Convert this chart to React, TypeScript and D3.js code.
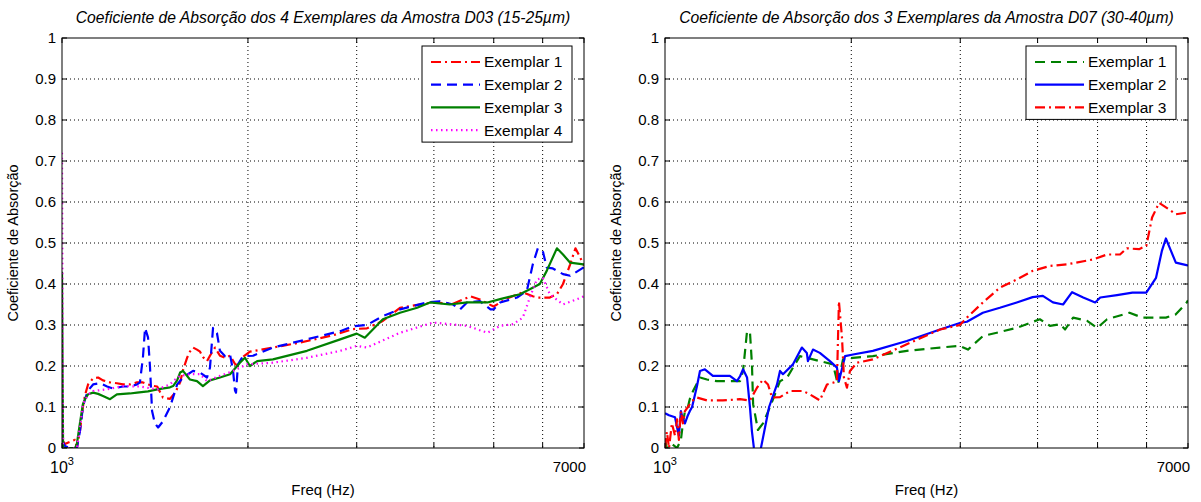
import React from 'react';
import * as d3 from 'd3';

const W = 1201;
const H = 502;

// ---------- Amostra D03 (15-25 µm) ----------
const d03Ex1Freq = [1000, 1011, 1030, 1050, 1057, 1069, 1081, 1090, 1102, 1123, 1144, 1165, 1196, 1227, 1255, 1288, 1323, 1352, 1378, 1399, 1426, 1457, 1496, 1525, 1553, 1570, 1594, 1611, 1630, 1654, 1673, 1691, 1717, 1736, 1769, 1802, 1837, 1871, 1906, 1927, 1963, 2015, 2195, 2428, 2748, 2957, 3117, 3307, 3525, 3987, 4297, 4585, 4750, 4997, 5256, 5573, 5784, 5893, 6163, 6327, 6473, 6648, 6780, 6900, 7000];
const d03Ex1Abs = [0.02, 0.01, 0.015, 0.02, 0.0, 0.04, 0.1, 0.13, 0.155, 0.17, 0.172, 0.165, 0.16, 0.158, 0.155, 0.155, 0.16, 0.16, 0.155, 0.152, 0.15, 0.123, 0.12, 0.135, 0.16, 0.19, 0.22, 0.235, 0.245, 0.24, 0.235, 0.222, 0.212, 0.225, 0.245, 0.225, 0.22, 0.225, 0.205, 0.2, 0.222, 0.235, 0.245, 0.257, 0.275, 0.29, 0.292, 0.31, 0.342, 0.355, 0.352, 0.37, 0.362, 0.345, 0.365, 0.38, 0.37, 0.367, 0.367, 0.375, 0.4, 0.448, 0.487, 0.465, 0.445];

const d03Ex2Freq = [1000, 1011, 1030, 1057, 1069, 1081, 1090, 1102, 1123, 1152, 1183, 1209, 1255, 1288, 1323, 1337, 1352, 1363, 1378, 1388, 1399, 1414, 1431, 1457, 1496, 1525, 1536, 1570, 1630, 1673, 1717, 1736, 1756, 1782, 1802, 1837, 1871, 1892, 1906, 1913, 1927, 1963, 2038, 2195, 2492, 2821, 2957, 3117, 3307, 3525, 3900, 4090, 4297, 4410, 4526, 4750, 4940, 4997, 5120, 5454, 5656, 5784, 5893, 6004, 6092, 6232, 6473, 6648, 6982, 7000];
const d03Ex2Abs = [0.02, 0.005, 0.0, 0.0, 0.04, 0.1, 0.12, 0.14, 0.155, 0.158, 0.15, 0.145, 0.15, 0.15, 0.155, 0.16, 0.22, 0.293, 0.27, 0.2, 0.09, 0.06, 0.05, 0.065, 0.1, 0.14, 0.155, 0.172, 0.188, 0.184, 0.172, 0.196, 0.293, 0.28, 0.237, 0.224, 0.228, 0.188, 0.14, 0.135, 0.204, 0.224, 0.225, 0.245, 0.265, 0.285, 0.297, 0.3, 0.322, 0.338, 0.355, 0.358, 0.35, 0.338, 0.355, 0.358, 0.338, 0.338, 0.355, 0.367, 0.383, 0.448, 0.487, 0.48, 0.44, 0.438, 0.424, 0.42, 0.44, 0.445];

const d03Ex3Freq = [1000, 1004, 1030, 1050, 1057, 1069, 1081, 1090, 1102, 1123, 1144, 1165, 1196, 1227, 1288, 1323, 1378, 1426, 1496, 1513, 1536, 1553, 1570, 1611, 1654, 1691, 1736, 1802, 1871, 1941, 1978, 2015, 2070, 2195, 2492, 2821, 3000, 3092, 3307, 3525, 3758, 3941, 4245, 4526, 4883, 5120, 5512, 5720, 5937, 6092, 6327, 6473, 6648, 6982, 7000];
const d03Ex3Abs = [0.43, 0.0, 0.0, 0.0, 0.01, 0.06, 0.107, 0.12, 0.131, 0.135, 0.132, 0.127, 0.119, 0.131, 0.133, 0.135, 0.138, 0.143, 0.148, 0.151, 0.165, 0.184, 0.188, 0.167, 0.163, 0.151, 0.165, 0.172, 0.18, 0.208, 0.22, 0.2, 0.212, 0.216, 0.237, 0.265, 0.279, 0.269, 0.314, 0.33, 0.342, 0.355, 0.35, 0.355, 0.355, 0.363, 0.375, 0.387, 0.4, 0.432, 0.487, 0.472, 0.452, 0.448, 0.448];

const d03Ex4Freq = [1000, 1004, 1030, 1057, 1069, 1081, 1102, 1123, 1183, 1255, 1337, 1426, 1496, 1513, 1553, 1611, 1673, 1717, 1802, 1892, 1993, 2195, 2492, 2821, 3000, 3117, 3525, 3987, 4245, 4526, 4883, 5120, 5374, 5573, 5720, 5871, 6004, 6163, 6473, 6824, 7000];
const d03Ex4Abs = [0.72, 0.0, 0.0, 0.0, 0.05, 0.107, 0.13, 0.139, 0.143, 0.151, 0.15, 0.143, 0.155, 0.163, 0.176, 0.18, 0.18, 0.163, 0.176, 0.188, 0.204, 0.208, 0.22, 0.237, 0.249, 0.245, 0.281, 0.306, 0.302, 0.298, 0.281, 0.298, 0.302, 0.318, 0.367, 0.411, 0.415, 0.375, 0.35, 0.363, 0.37];

// ---------- Amostra D07 (30-40 µm) ----------
const d07Ex1Freq = [1000, 1007, 1026, 1046, 1061, 1069, 1077, 1089, 1097, 1110, 1139, 1169, 1213, 1259, 1322, 1337, 1357, 1372, 1382, 1388, 1413, 1440, 1478, 1534, 1575, 1652, 1695, 1779, 1868, 1903, 1939, 2013, 2167, 2459, 2782, 2996, 3087, 3263, 3702, 4034, 4188, 4350, 4431, 4565, 4810, 4993, 5180, 5630, 5906, 6447, 6690, 6960, 7000];
const d07Ex1Abs = [0.02, 0.0, 0.01, 0.0, 0.02, 0.06, 0.09, 0.1, 0.12, 0.139, 0.172, 0.167, 0.163, 0.163, 0.163, 0.188, 0.285, 0.281, 0.204, 0.107, 0.044, 0.06, 0.1, 0.163, 0.172, 0.224, 0.22, 0.212, 0.204, 0.155, 0.216, 0.22, 0.224, 0.237, 0.245, 0.249, 0.24, 0.273, 0.293, 0.314, 0.298, 0.302, 0.289, 0.318, 0.31, 0.293, 0.314, 0.33, 0.318, 0.318, 0.326, 0.354, 0.36];

const d07Ex2Freq = [1000, 1015, 1038, 1046, 1053, 1061, 1069, 1077, 1089, 1097, 1106, 1126, 1139, 1160, 1195, 1240, 1273, 1307, 1322, 1337, 1357, 1372, 1382, 1392, 1413, 1429, 1473, 1517, 1534, 1551, 1610, 1664, 1695, 1702, 1734, 1779, 1847, 1896, 1910, 1954, 2013, 2167, 2459, 2782, 2996, 3075, 3263, 3476, 3702, 3927, 4079, 4235, 4398, 4548, 4740, 4956, 5050, 5375, 5692, 5994, 6215, 6350, 6447, 6520, 6690, 6960, 7000];
const d07Ex2Abs = [0.085, 0.08, 0.075, 0.05, 0.03, 0.09, 0.07, 0.06, 0.08, 0.09, 0.1, 0.15, 0.188, 0.192, 0.176, 0.176, 0.176, 0.163, 0.175, 0.192, 0.172, 0.098, 0.04, 0.0, -0.04, 0.0, 0.1, 0.155, 0.188, 0.18, 0.204, 0.245, 0.232, 0.212, 0.24, 0.232, 0.212, 0.196, 0.163, 0.224, 0.228, 0.237, 0.261, 0.289, 0.305, 0.308, 0.33, 0.342, 0.355, 0.368, 0.371, 0.355, 0.35, 0.38, 0.367, 0.355, 0.367, 0.373, 0.379, 0.379, 0.415, 0.48, 0.511, 0.493, 0.452, 0.446, 0.445];

const d07Ex3Freq = [1000, 1007, 1015, 1026, 1038, 1046, 1053, 1061, 1069, 1077, 1089, 1106, 1126, 1169, 1240, 1322, 1372, 1408, 1440, 1467, 1489, 1534, 1592, 1671, 1714, 1779, 1827, 1868, 1896, 1910, 1932, 1946, 1968, 1990, 2043, 2167, 2459, 2782, 2996, 3075, 3263, 3476, 3702, 3927, 4188, 4464, 4920, 5180, 5435, 5575, 5835, 5994, 6124, 6285, 6520, 6690, 6960, 7000];
const d07Ex3Abs = [0.0, 0.04, 0.0, 0.06, 0.03, 0.07, 0.02, 0.09, 0.06, 0.09, 0.1, 0.115, 0.123, 0.116, 0.116, 0.119, 0.116, 0.147, 0.167, 0.155, 0.123, 0.124, 0.139, 0.139, 0.131, 0.116, 0.155, 0.159, 0.163, 0.358, 0.269, 0.172, 0.147, 0.188, 0.208, 0.216, 0.253, 0.289, 0.3, 0.318, 0.355, 0.391, 0.411, 0.432, 0.444, 0.448, 0.46, 0.472, 0.472, 0.487, 0.485, 0.493, 0.562, 0.598, 0.582, 0.57, 0.574, 0.575];

// ---------- axes ----------
const yTickValues = [0, 0.1, 0.2, 0.3, 0.4, 0.5, 0.6, 0.7, 0.8, 0.9, 1];
const yTickLabels = ['0', '0.1', '0.2', '0.3', '0.4', '0.5', '0.6', '0.7', '0.8', '0.9', '1'];
const xTickValues = [1000, 2000, 3000, 4000, 5000, 6000, 7000];
const xGridValues = [2000, 3000, 4000, 5000, 6000];

const titleD03 = 'Coeficiente de Absorção dos 4 Exemplares da Amostra D03 (15-25µm)';
const titleD07 = 'Coeficiente de Absorção dos 3 Exemplares da Amostra D07 (30-40µm)';
const xLabel = 'Freq (Hz)';
const yLabel = 'Coeficiente de Absorção';

const RED = '#ff0000';
const BLUE = '#0000ff';
const GREEN = '#008000';
const MAGENTA = '#ff00ff';

const DASH_DOT = '10,4,2,4';
const DASHED = '10,6';
const DOTTED = '1.5,3.5';

type Series = { label: string; freq: number[]; abs: number[]; color: string; dash?: string };

const seriesD03: Series[] = [
  { label: 'Exemplar 1', freq: d03Ex1Freq, abs: d03Ex1Abs, color: RED, dash: DASH_DOT },
  { label: 'Exemplar 2', freq: d03Ex2Freq, abs: d03Ex2Abs, color: BLUE, dash: DASHED },
  { label: 'Exemplar 3', freq: d03Ex3Freq, abs: d03Ex3Abs, color: GREEN },
  { label: 'Exemplar 4', freq: d03Ex4Freq, abs: d03Ex4Abs, color: MAGENTA, dash: DOTTED },
];

const seriesD07: Series[] = [
  { label: 'Exemplar 1', freq: d07Ex1Freq, abs: d07Ex1Abs, color: GREEN, dash: DASHED },
  { label: 'Exemplar 2', freq: d07Ex2Freq, abs: d07Ex2Abs, color: BLUE },
  { label: 'Exemplar 3', freq: d07Ex3Freq, abs: d07Ex3Abs, color: RED, dash: DASH_DOT },
];

const FONT = '"Liberation Sans", Arial, Helvetica, sans-serif';

type PanelProps = {
  id: string;
  left: number;
  right: number;
  top: number;
  bottom: number;
  title: string;
  series: Series[];
};

function Panel({ id, left, right, top, bottom, title, series }: PanelProps) {
  const x = d3.scaleLog().domain([1000, 7000]).range([left, right]);
  const y = d3.scaleLinear().domain([0, 1]).range([bottom, top]);
  const line = d3
    .line<[number, number]>()
    .x((d) => x(d[0]))
    .y((d) => y(d[1]));

  const cx = (left + right) / 2;
  const cy = (top + bottom) / 2;
  const tick = 5;

  // legend geometry
  const legW = 150;
  const legRight = right - 12;
  const legLeft = legRight - legW;
  const legTop = top + 8;
  const rowH = 22.7;
  const legH = 16 + (series.length - 1) * rowH + 12;

  return (
    <g>
      <defs>
        <clipPath id={`clip-${id}`}>
          <rect x={left} y={top} width={right - left} height={bottom - top} />
        </clipPath>
      </defs>
      <rect x={left} y={top} width={right - left} height={bottom - top} fill="#fff" />

      {/* dotted grid */}
      {yTickValues.slice(1, -1).map((v) => (
        <line key={`gy${v}`} x1={left} x2={right} y1={y(v)} y2={y(v)} stroke="#000" strokeWidth={1} strokeDasharray="1,3" />
      ))}
      {xGridValues.map((v) => (
        <line key={`gx${v}`} x1={x(v)} x2={x(v)} y1={top} y2={bottom} stroke="#000" strokeWidth={1} strokeDasharray="1,3" />
      ))}

      {/* curves */}
      <g clipPath={`url(#clip-${id})`}>
        {series.map((s) => (
          <path
            key={s.label}
            d={line(s.freq.map((f, i) => [f, s.abs[i]] as [number, number])) || ''}
            fill="none"
            stroke={s.color}
            strokeWidth={2.2}
            strokeDasharray={s.dash}
            strokeLinejoin="round"
          />
        ))}
      </g>

      {/* inward tick marks on all four sides */}
      {yTickValues.map((v) => (
        <g key={`ty${v}`}>
          <line x1={left} x2={left + tick} y1={y(v)} y2={y(v)} stroke="#000" />
          <line x1={right} x2={right - tick} y1={y(v)} y2={y(v)} stroke="#000" />
        </g>
      ))}
      {xTickValues.map((v) => (
        <g key={`tx${v}`}>
          <line x1={x(v)} x2={x(v)} y1={bottom} y2={bottom - tick} stroke="#000" />
          <line x1={x(v)} x2={x(v)} y1={top} y2={top + tick} stroke="#000" />
        </g>
      ))}

      <rect x={left} y={top} width={right - left} height={bottom - top} fill="none" stroke="#000" strokeWidth={1} />

      {/* y tick labels */}
      {yTickValues.map((v, i) => (
        <text key={`ly${v}`} x={left - 6} y={y(v)} dy="0.35em" textAnchor="end" fontSize={15} fontFamily={FONT} fill="#000">
          {yTickLabels[i]}
        </text>
      ))}

      {/* x tick labels */}
      <text x={x(1000)} y={bottom + 25} textAnchor="middle" fontSize={16} fontFamily={FONT} fill="#000">
        10<tspan fontSize={11} dy={-8}>3</tspan>
      </text>
      <text x={x(7000) + 2} y={bottom + 24} textAnchor="end" fontSize={15} fontFamily={FONT} fill="#000">
        7000
      </text>

      {/* axis labels and title */}
      <text x={cx} y={bottom + 47} textAnchor="middle" fontSize={15} fontFamily={FONT} fill="#000">
        {xLabel}
      </text>
      <text
        transform={`translate(${left - 44},${cy}) rotate(-90)`}
        textAnchor="middle"
        fontSize={14.5}
        fontFamily={FONT}
        fill="#000"
      >
        {yLabel}
      </text>
      <text x={cx} y={top - 15} textAnchor="middle" fontSize={15.7} fontStyle="italic" fontFamily={FONT} fill="#000">
        {title}
      </text>

      {/* legend */}
      <rect x={legLeft} y={legTop} width={legW} height={legH} fill="#fff" stroke="#000" strokeWidth={1} />
      {series.map((s, i) => {
        const ly = legTop + 16 + i * rowH;
        return (
          <g key={`leg${s.label}`}>
            <line x1={legLeft + 9} x2={legLeft + 58} y1={ly} y2={ly} stroke={s.color} strokeWidth={2.2} strokeDasharray={s.dash} />
            <text x={legLeft + 62} y={ly} dy="0.35em" fontSize={15.5} fontFamily={FONT} fill="#000">
              {s.label}
            </text>
          </g>
        );
      })}
    </g>
  );
}

export default function App() {
  return (
    <svg
      width={W}
      height={H}
      viewBox={`0 0 ${W} ${H}`}
      style={{ position: 'absolute', left: 0, top: 0, background: '#fff' }}
    >
      <rect x={0} y={0} width={W} height={H} fill="#fff" />
      <Panel id="d03" left={62} right={584} top={38} bottom={448} title={titleD03} series={seriesD03} />
      <Panel id="d07" left={665} right={1188} top={38} bottom={448} title={titleD07} series={seriesD07} />
    </svg>
  );
}
